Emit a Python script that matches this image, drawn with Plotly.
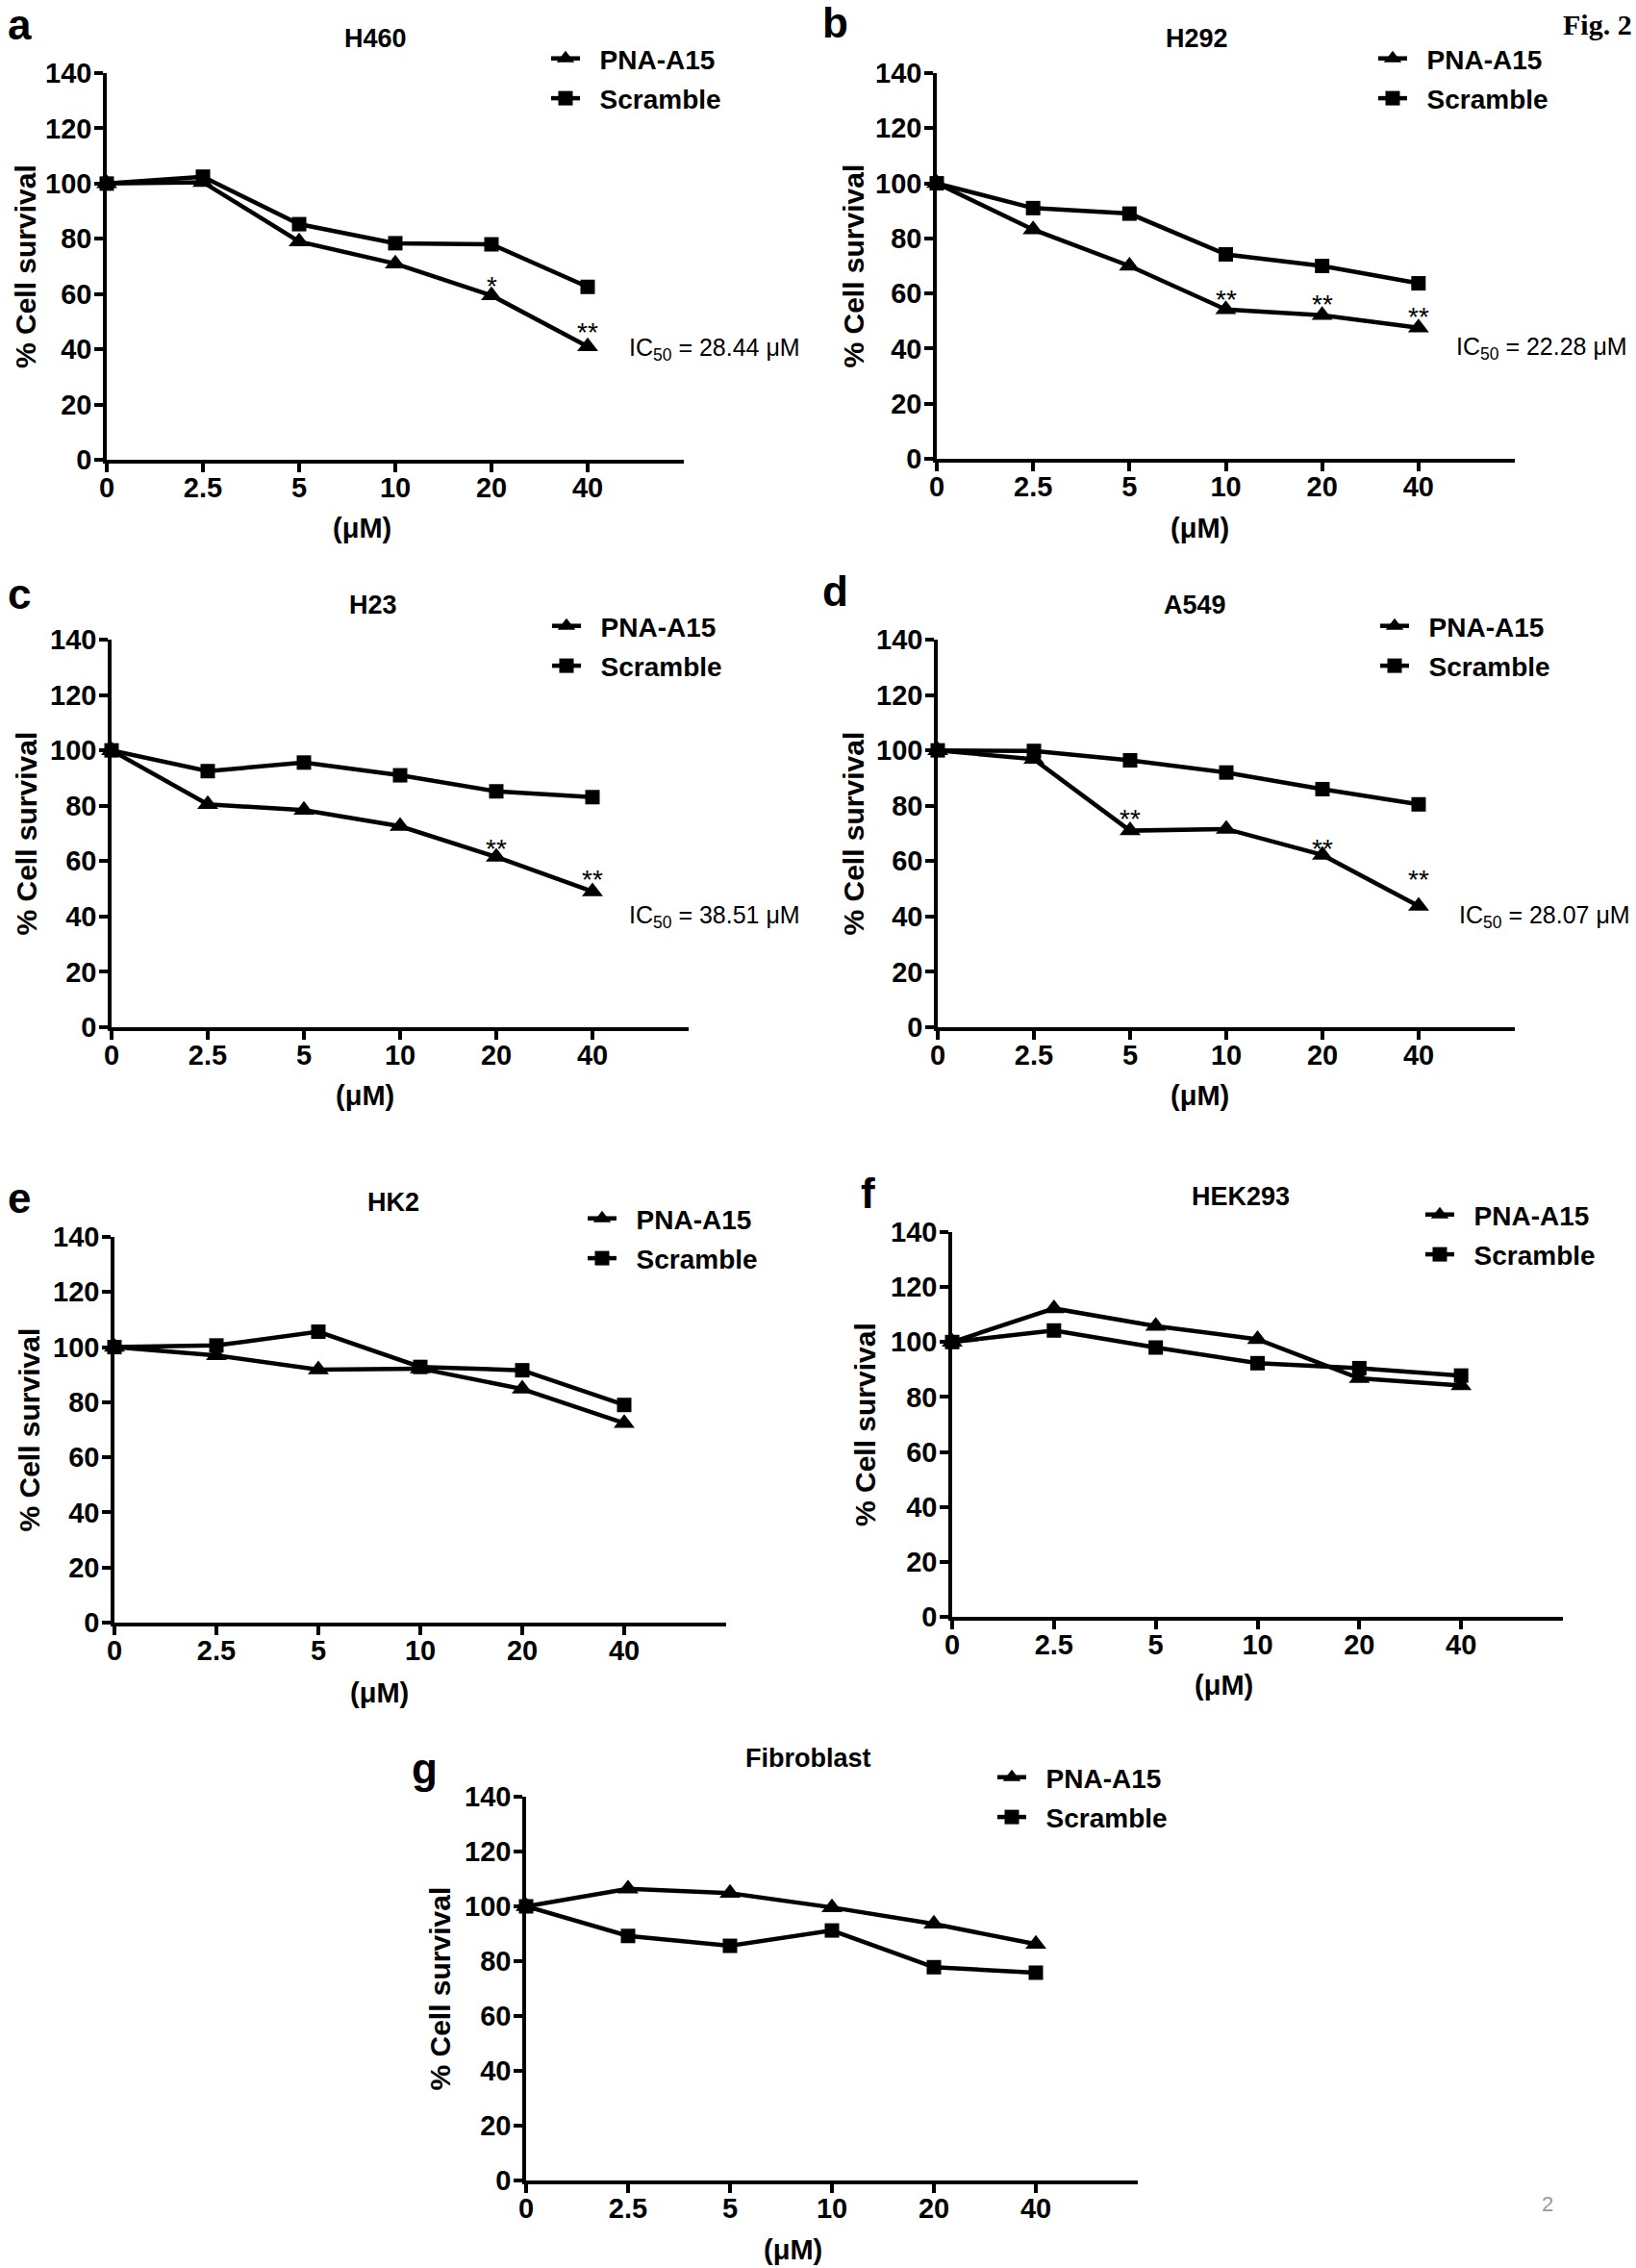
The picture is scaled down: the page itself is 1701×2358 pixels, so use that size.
import plotly.graph_objects as go

W, H = 1701, 2358

doses = ["0", "2.5", "5", "10", "20", "40"]

# % cell survival
h460_pna = [100, 100.5, 79, 71, 59.5, 41]
h460_scr = [100, 102.5, 85.3, 78.4, 78, 62.6]
h292_pna = [100, 83.2, 70, 54.2, 52.1, 47.6]
h292_scr = [100, 91, 89, 74.2, 70, 63.7]
h23_pna = [100, 80.5, 78.4, 72.6, 61.5, 49]
h23_scr = [100, 92.5, 95.6, 91, 85.2, 83.1]
a549_pna = [100, 96.8, 71, 71.6, 62.2, 43.8]
a549_scr = [100, 99.8, 96.4, 92, 86, 80.5]
hk2_pna = [100, 97, 91.8, 92.2, 84.8, 72.4]
hk2_scr = [100, 100.6, 105.6, 92.8, 91.6, 79]
hek_pna = [100, 112.2, 105.8, 101, 86.8, 84.2]
hek_scr = [100, 104.2, 98, 92.3, 90.5, 87.8]
fib_pna = [100, 106.4, 104.8, 99.6, 93.6, 86.2]
fib_scr = [100, 89.2, 85.6, 91.2, 77.8, 75.8]

# significance marks (dose, label, y of the mark)
h460_sig = [("20", "*", 64.5), ("40", "**", 48)]
h292_sig = [("10", "**", 59.5), ("20", "**", 57.8), ("40", "**", 53.2)]
h23_sig = [("20", "**", 66.2), ("40", "**", 55)]
a549_sig = [("5", "**", 76.8), ("20", "**", 66.3), ("40", "**", 55)]

ic50_h460 = "IC<sub>50</sub> = 28.44 \u03bcM"
ic50_h292 = "IC<sub>50</sub> = 22.28 \u03bcM"
ic50_h23 = "IC<sub>50</sub> = 38.51 \u03bcM"
ic50_a549 = "IC<sub>50</sub> = 28.07 \u03bcM"

# name, letter, pna, scramble, marks, ic50, plot box (l, r, t, b) px,
# title centre, letter centre, legend marker centre, ytitle x, xtitle centre, ic50 x
panels = [
    ("H460", "a", h460_pna, h460_scr, h460_sig, ic50_h460, (111, 711, 76, 478),
     (390, 40), (20, 25), (589, 60), 27, (376, 549), 652),
    ("H292", "b", h292_pna, h292_scr, h292_sig, ic50_h292, (974, 1575, 76, 477),
     (1244, 40), (868, 24), (1449, 60), 887, (1247, 549), 1512),
    ("H23", "c", h23_pna, h23_scr, h23_sig, ic50_h23, (116, 716, 665, 1068),
     (388, 629), (20, 617), (590, 650), 27, (379, 1139), 652),
    ("A549", "d", a549_pna, a549_scr, a549_sig, ic50_a549, (975, 1575, 665, 1068),
     (1242, 629), (868, 614), (1451, 650), 887, (1247, 1139), 1515),
    ("HK2", "e", hk2_pna, hk2_scr, [], None, (119, 755, 1286, 1687),
     (409, 1250), (20, 1245), (627, 1266), 30, (394, 1760), None),
    ("HEK293", "f", hek_pna, hek_scr, [], None, (990, 1625, 1281, 1681),
     (1290, 1244), (902, 1240), (1498, 1262), 899, (1272, 1752), None),
    ("Fibroblast", "g", fib_pna, fib_scr, [], None, (547, 1183, 1868, 2267),
     (840, 1828), (441, 1838), (1053, 1847), 457, (824, 2339), None),
]

FONT = "Liberation Sans"
bold = dict(family=FONT, color="black", weight="bold")
PAD = "\u00a0\u00a0"  # gap between the legend symbol and its text


def px(x):
    return x / W


def py(y):
    return 1 - y / H


def label(text, x, y, size, **kw):
    font = kw.pop("font", dict(size=size, **bold))
    return dict(text=text, x=px(x), y=py(y), xref="paper", yref="paper",
                xanchor="center", yanchor="middle", showarrow=False, font=font, **kw)


fig = go.Figure()
annotations = []
layout = {}

for i, (name, letter, pna, scr, sig, ic50, box, tpos, lpos, legpos, ytx, xtpos, icx) in enumerate(panels):
    n = "" if i == 0 else str(i + 1)
    xa, ya, lg = "x" + n, "y" + n, "legend" + n
    l, r, t, b = box

    fig.add_trace(go.Scatter(
        x=doses, y=pna, name=PAD + "PNA-A15", xaxis=xa, yaxis=ya, legend=lg,
        legendgroup="p" + n, mode="lines+markers", cliponaxis=False,
        line=dict(color="black", width=4.5),
        marker=dict(symbol="triangle-up", size=19, color="black")))
    fig.add_trace(go.Scatter(
        x=doses, y=scr, name=PAD + "Scramble", xaxis=xa, yaxis=ya, legend=lg,
        legendgroup="s" + n, mode="lines+markers", cliponaxis=False,
        line=dict(color="black", width=4.5),
        marker=dict(symbol="square", size=15, color="black")))

    axis_style = dict(showline=True, linecolor="black", linewidth=3.5,
                      ticks="outside", ticklen=9, tickwidth=3.5, tickcolor="black",
                      showgrid=False, zeroline=False, automargin=False,
                      tickfont=dict(size=29, **bold))
    layout["xaxis" + n] = dict(domain=[px(l), px(r)], anchor=ya, type="category",
                               categoryorder="array", categoryarray=doses,
                               range=[0, 6], ticklabelstandoff=-9, **axis_style)
    layout["yaxis" + n] = dict(domain=[py(b), py(t)], anchor=xa, range=[0, 140],
                               tickvals=list(range(0, 141, 20)), ticklabelstandoff=-3,
                               **axis_style)
    layout[lg] = dict(x=px(legpos[0] - 21), y=py(legpos[1] - 24), xanchor="left",
                      yanchor="top", bgcolor="rgba(0,0,0,0)", tracegroupgap=2,
                      font=dict(size=28, **bold))

    annotations.append(label(name, tpos[0], tpos[1], 27))
    annotations.append(label(letter, lpos[0], lpos[1], 44))
    annotations.append(label("% Cell survival", ytx, (t + b) / 2, 30, textangle=-90))
    annotations.append(label("(\u03bcM)", xtpos[0], xtpos[1], 29))
    for dose, mark, yv in sig:
        annotations.append(dict(text=mark, x=doses.index(dose), y=yv, xref=xa, yref=ya,
                                xanchor="center", yanchor="middle", showarrow=False,
                                yshift=-5,
                                font=dict(family=FONT, size=28, color="black")))
    if ic50:
        annotations.append(dict(text=ic50, x=px(icx), y=40, xref="paper", yref=ya,
                                xanchor="left", yanchor="middle", showarrow=False,
                                font=dict(family=FONT, size=25, color="black")))

annotations.append(label("Fig. 2", 1661, 25, 30,
                         font=dict(family="Liberation Serif", size=30, color="black",
                                   weight="bold")))
annotations.append(label("2", 1609, 2291, 22,
                         font=dict(family=FONT, size=22, color="#9a9a9a")))

fig.update_layout(width=W, height=H,
                  margin=dict(l=0, r=0, t=0, b=0, pad=0, autoexpand=False),
                  plot_bgcolor="white", paper_bgcolor="white",
                  annotations=annotations, **layout)

fig.write_html("out.html", config={"displayModeBar": False},
               post_script="document.body.style.margin='0';")
